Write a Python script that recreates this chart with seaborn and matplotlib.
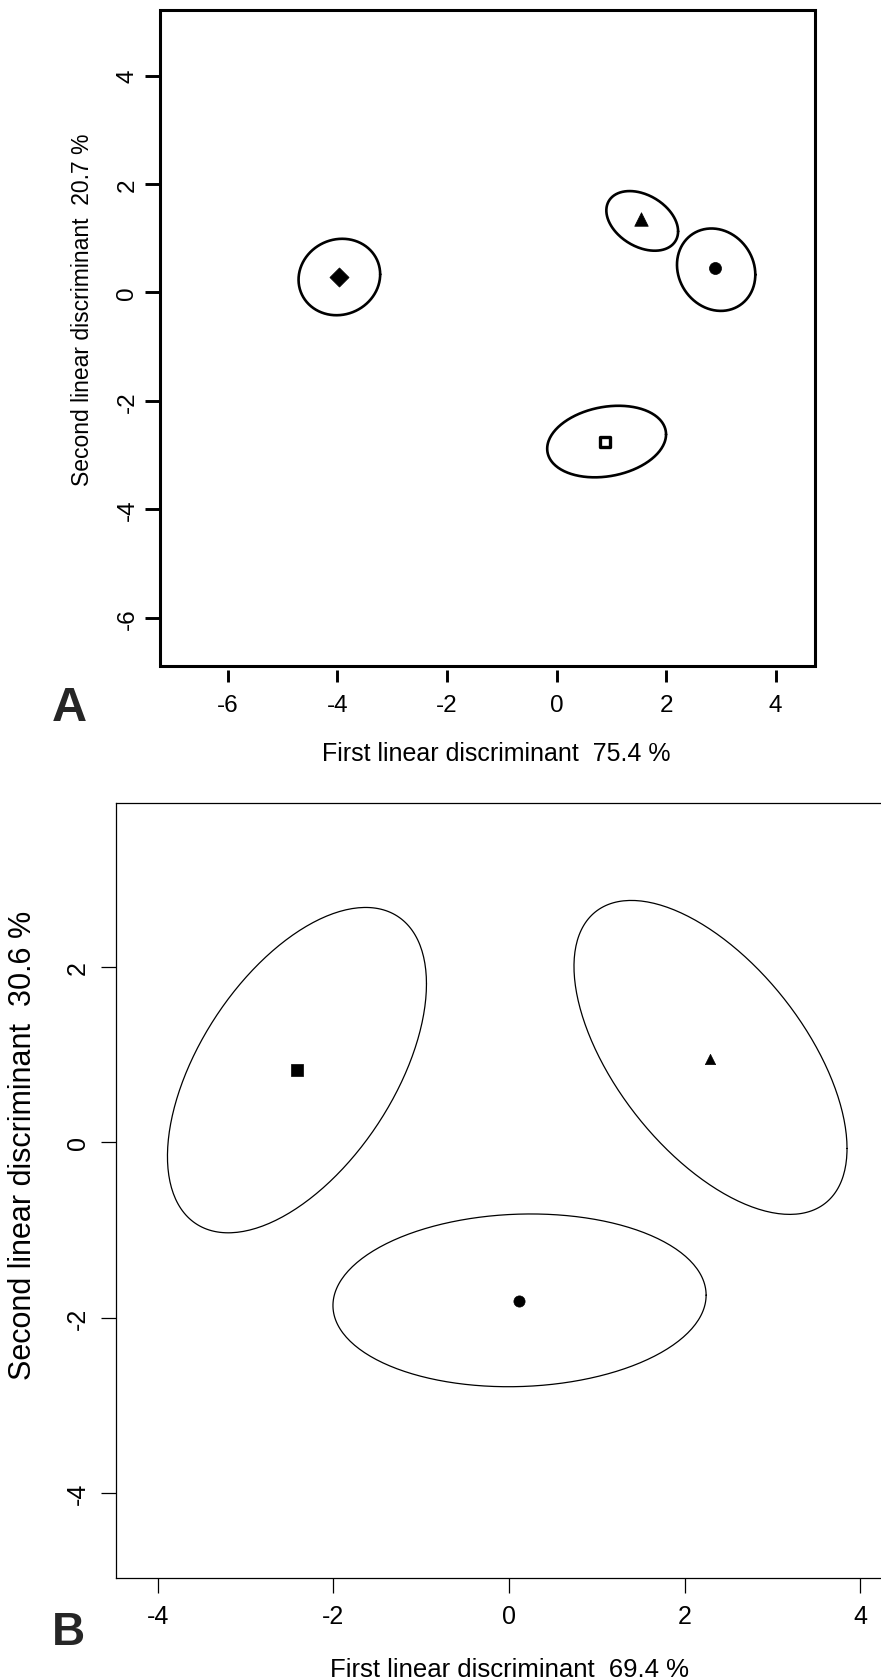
import numpy as np
import pandas as pd
import matplotlib
matplotlib.use("Agg")
import matplotlib.pyplot as plt
from matplotlib.patches import Rectangle
import seaborn as sns

# ---------------- data ----------------
# Panel A: group means (markers) and ellipse shapes (center, half-width, half-height, correlation)
A_groups = ["diamond", "triangle", "circle", "square"]
A_mean_x = [-3.98, 1.55, 2.885, 0.89]
A_mean_y = [0.28, 1.35, 0.46, -2.75]
A_ell_cx = [-3.965, 1.565, 2.915, 0.915]
A_ell_cy = [0.285, 1.32, 0.42, -2.75]
A_ell_hw = [0.745, 0.655, 0.715, 1.085]
A_ell_hh = [0.705, 0.55, 0.76, 0.66]
A_ell_r = [0.07, -0.35, -0.12, 0.2]
A_xticks = [-6, -4, -2, 0, 2, 4]
A_yticks = [-6, -4, -2, 0, 2, 4]
A_xlabel = "First linear discriminant  75.4 %"
A_ylabel = "Second linear discriminant  20.7 %"

# Panel B
B_groups = ["square", "triangle", "circle"]
B_mean_x = [-2.42, 2.29, 0.115]
B_mean_y = [0.83, 0.95, -1.81]
B_ell_cx = [-2.415, 2.295, 0.12]
B_ell_cy = [0.825, 0.97, -1.80]
B_ell_hw = [1.475, 1.555, 2.125]
B_ell_hh = [1.855, 1.79, 0.985]
B_ell_r = [0.53, -0.58, 0.06]
B_xticks = [-4, -2, 0, 2, 4]
B_yticks = [-4, -2, 0, 2]
B_xlabel = "First linear discriminant  69.4 %"
B_ylabel = "Second linear discriminant  30.6 %"


def ellipse_frame(groups, cx, cy, hw, hh, r, n=240):
    t = np.linspace(0, 2 * np.pi, n)
    rows = []
    for g, x0, y0, a, b, rr in zip(groups, cx, cy, hw, hh, r):
        xs = x0 + a * np.cos(t)
        ys = y0 + b * (rr * np.cos(t) + np.sqrt(1 - rr ** 2) * np.sin(t))
        rows.append(pd.DataFrame({"group": g, "x": xs, "y": ys, "order": np.arange(n)}))
    return pd.concat(rows, ignore_index=True)


sns.set_theme(style="white")
plt.rcParams["font.family"] = ["Liberation Sans", "DejaVu Sans"]

W, H = 881, 1681
fig = plt.figure(figsize=(W / 100, H / 100), dpi=100)

# ---------------- Panel A ----------------
axA = fig.add_axes([160 / W, 1 - 667 / H, 655 / W, 656 / H])
dfA = ellipse_frame(A_groups, A_ell_cx, A_ell_cy, A_ell_hw, A_ell_hh, A_ell_r)
sns.lineplot(data=dfA, x="x", y="y", units="group", estimator=None, sort=False,
             color="black", lw=1.9, ax=axA)
mA = pd.DataFrame({"group": A_groups, "x": A_mean_x, "y": A_mean_y})
styleA = {"diamond": ("D", 95, "black"), "triangle": ("^", 95, "black"),
          "circle": ("o", 75, "black"), "square": ("s", 60, "white")}
for g in A_groups:
    mk, s, fc = styleA[g]
    sns.scatterplot(data=mA[mA.group == g], x="x", y="y", marker=mk, s=s,
                    color=fc, edgecolor="black", linewidth=2.4 if g == "square" else 0.5,
                    ax=axA, legend=False, zorder=5)
axA.set_xlim(-7.24, 4.72)
axA.set_ylim(-6.89, 5.21)
axA.set_xticks(A_xticks)
axA.set_yticks(A_yticks)
axA.set_xticklabels([str(v) for v in A_xticks])
axA.set_yticklabels([str(v) for v in A_yticks], rotation=90, va="center")
for sp in axA.spines.values():
    sp.set_visible(True)
    sp.set_color("none")
axA.spines["bottom"].set_position(("outward", 3))
axA.add_patch(Rectangle((0, 0), 1, 1, transform=axA.transAxes, fill=False,
                        lw=2.2, ec="black", clip_on=False, zorder=10))
axA.tick_params(axis="both", which="major", direction="out", length=10.5, width=2.1,
                color="black", labelsize=17.5, labelcolor="black",
                bottom=True, left=True)
axA.tick_params(axis="x", length=8.5, pad=9)
axA.tick_params(axis="y", pad=5)
axA.set_xlabel(A_xlabel, fontsize=18, color="black")
axA.set_ylabel(A_ylabel, fontsize=16.5, color="black")
axA.xaxis.set_label_coords(0.513, -0.115)
axA.yaxis.set_label_coords(-0.100, 0.544)
fig.text(52 / W, 1 - 721 / H, "A", fontsize=35, fontweight="bold", ha="left", va="baseline")

# ---------------- Panel B ----------------
axB = fig.add_axes([116 / W, 1 - 1579 / H, 786 / W, 775 / H])
dfB = ellipse_frame(B_groups, B_ell_cx, B_ell_cy, B_ell_hw, B_ell_hh, B_ell_r)
sns.lineplot(data=dfB, x="x", y="y", units="group", estimator=None, sort=False,
             color="black", lw=0.9, ax=axB)
mB = pd.DataFrame({"group": B_groups, "x": B_mean_x, "y": B_mean_y})
styleB = {"square": ("s", 80), "triangle": ("^", 55), "circle": ("o", 65)}
for g in B_groups:
    mk, s = styleB[g]
    sns.scatterplot(data=mB[mB.group == g], x="x", y="y", marker=mk, s=s,
                    color="black", edgecolor="black", linewidth=0.5,
                    ax=axB, legend=False, zorder=5)
axB.set_xlim(-4.476, 4.476)
axB.set_ylim(-4.966, 3.871)
axB.set_xticks(B_xticks)
axB.set_yticks(B_yticks)
axB.set_xticklabels([str(v) for v in B_xticks])
axB.set_yticklabels([str(v) for v in B_yticks], rotation=90, va="center")
for sp in axB.spines.values():
    sp.set_visible(True)
    sp.set_color("black")
    sp.set_linewidth(0.9)
axB.tick_params(axis="both", which="major", direction="out", length=10.8, width=0.9,
                color="black", labelsize=18, labelcolor="black", pad=8,
                bottom=True, left=True)
axB.set_xlabel(B_xlabel, fontsize=18.5, color="black")
axB.set_ylabel(B_ylabel, fontsize=22, color="black")
axB.xaxis.set_label_coords(0.501, -0.102)
axB.yaxis.set_label_coords(-0.0992, 0.56)
fig.text(52 / W, 1 - 1645 / H, "B", fontsize=33, fontweight="bold", ha="left", va="baseline")

fig.savefig("out.png", dpi=100)
